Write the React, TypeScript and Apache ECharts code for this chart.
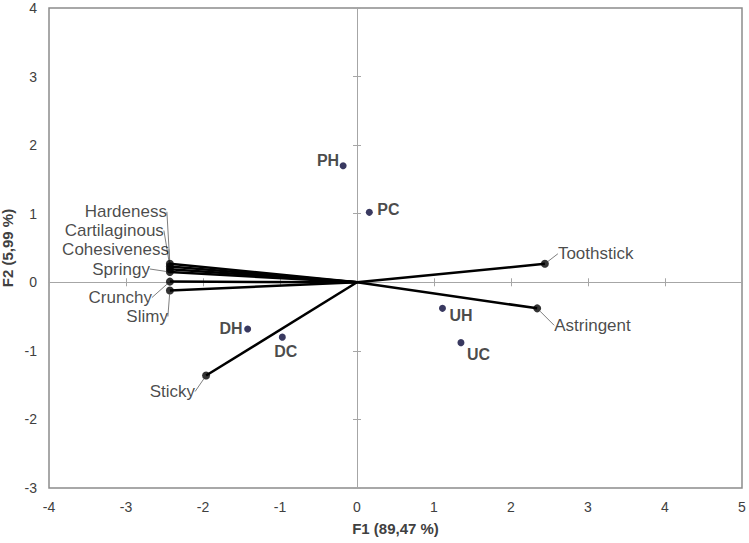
import React, { useEffect, useRef } from "react";
import * as echarts from "echarts";

// Variables (loadings) – F1 / F2 coordinates
const variableNames = ["Hardeness", "Cartilaginous", "Cohesiveness", "Springy", "Crunchy", "Slimy", "Sticky", "Toothstick", "Astringent"];
const variableF1 = [-2.43, -2.43, -2.43, -2.43, -2.43, -2.43, -1.96, 2.44, 2.34];
const variableF2 = [0.27, 0.23, 0.19, 0.15, 0.01, -0.12, -1.36, 0.27, -0.38];

// Observations (samples)
const observationNames = ["PH", "PC", "DH", "DC", "UH", "UC"];
const observationF1 = [-0.18, 0.16, -1.42, -0.97, 1.11, 1.35];
const observationF2 = [1.70, 1.02, -0.68, -0.80, -0.38, -0.88];

// Axes
const xMin = -4;
const xMax = 5;
const yMin = -3;
const yMax = 4;
const xTitle = "F1 (89,47 %)";
const yTitle = "F2 (5,99 %)";

// Label placement (pixel offsets from the point, style only)
const variableLabelOffsets: [number, number, string][] = [
  [-3, -52, "right"],
  [-6, -36, "right"],
  [-1, -20, "right"],
  [-20, -3, "right"],
  [-18, 16, "right"],
  [-2, 26, "right"],
  [-11, 16, "right"],
  [13, -10, "left"],
  [17, 17, "left"],
];
const observationLabelOffsets: [number, number, string][] = [
  [-4, -5, "right"],
  [8, -3, "left"],
  [-5, 0, "right"],
  [-8, 14, "left"],
  [7, 7, "left"],
  [6, 12, "left"],
];

const tickFont = "'Liberation Sans Narrow', 'Arial Narrow', 'Liberation Sans', Arial, sans-serif";
const labelFont = "'Liberation Sans', Arial, sans-serif";

function makeLayout(offsets: [number, number, string][]) {
  return (params: any) => {
    const r = params.rect;
    const o = offsets[params.dataIndex];
    return {
      x: r.x + r.width / 2 + o[0],
      y: r.y + r.height / 2 + o[1],
      align: o[2],
      verticalAlign: "middle",
    };
  };
}

export default function App() {
  const ref = useRef<HTMLDivElement>(null);

  useEffect(() => {
    if (!ref.current) return;
    const chart = echarts.init(ref.current, null, { renderer: "svg" });

    const zeroAxisBase = {
      type: "value",
      min: xMin,
      max: xMax,
      interval: 1,
      axisLabel: { show: false },
      splitLine: { show: false },
      axisLine: { show: true, onZero: true, onZeroAxisIndex: 0, lineStyle: { color: "#a6a6a6", width: 1 } },
    };
    const zeroYAxisBase = {
      type: "value",
      min: yMin,
      max: yMax,
      interval: 1,
      axisLabel: { show: false },
      splitLine: { show: false },
      axisLine: { show: true, onZero: true, onZeroAxisIndex: 0, lineStyle: { color: "#a6a6a6", width: 1 } },
    };

    const lineSeries = variableNames.map((name, i) => ({
      type: "line",
      name,
      data: [
        [0, 0],
        [variableF1[i], variableF2[i]],
      ],
      symbol: "none",
      silent: true,
      z: 3,
      lineStyle: { color: "#000", width: 2.5 },
    }));

    const option: any = {
      animation: false,
      backgroundColor: "#fff",
      grid: {
        left: 49,
        right: 7,
        top: 8,
        bottom: 55,
        containLabel: false,
        outerBoundsMode: "none",
        show: true,
        borderColor: "#8c8c8c",
        borderWidth: 1.5,
        backgroundColor: "transparent",
      },
      xAxis: [
        {
          type: "value",
          position: "bottom",
          min: xMin,
          max: xMax,
          interval: 1,
          axisLine: { show: false, onZero: false },
          axisTick: { show: false },
          splitLine: { show: false },
          axisLabel: { margin: 12, fontSize: 14, color: "#404040", fontFamily: tickFont },
          name: xTitle,
          nameLocation: "middle",
          nameGap: 33,
          nameMoveOverlap: false,
          nameTextStyle: { fontSize: 15, fontWeight: "bold", color: "#404040", fontFamily: tickFont },
        },
        { ...zeroAxisBase, position: "bottom", axisTick: { show: true, inside: false, length: 4, lineStyle: { color: "#a6a6a6" } } },
        { ...zeroAxisBase, position: "bottom", axisTick: { show: true, inside: true, length: 4, lineStyle: { color: "#a6a6a6" } } },
      ],
      yAxis: [
        {
          type: "value",
          position: "left",
          min: yMin,
          max: yMax,
          interval: 1,
          axisLine: { show: false, onZero: false },
          axisTick: { show: false },
          splitLine: { show: false },
          axisLabel: { margin: 12, fontSize: 14, color: "#404040", fontFamily: tickFont },
          name: yTitle,
          nameLocation: "middle",
          nameGap: 34,
          nameMoveOverlap: false,
          nameTextStyle: { fontSize: 15, fontWeight: "bold", color: "#404040", fontFamily: tickFont },
        },
        { ...zeroYAxisBase, position: "left", axisTick: { show: true, inside: false, length: 4, lineStyle: { color: "#a6a6a6" } } },
        { ...zeroYAxisBase, position: "left", axisTick: { show: true, inside: true, length: 4, lineStyle: { color: "#a6a6a6" } } },
      ],
      series: [
        ...lineSeries,
        {
          type: "scatter",
          name: "variables",
          z: 4,
          symbolSize: 8,
          itemStyle: { color: "#000" },
          data: variableNames.map((n, i) => ({ name: n, value: [variableF1[i], variableF2[i]] })),
          label: {
            show: true,
            formatter: "{b}",
            fontSize: 17,
            color: "#1a1a1a",
            fontFamily: labelFont,
          },
          labelLine: { show: true, lineStyle: { color: "#7f7f7f", width: 1 } },
          labelLayout: makeLayout(variableLabelOffsets),
        },
        {
          type: "scatter",
          name: "observations",
          z: 4,
          symbolSize: 7,
          itemStyle: { color: "#070738" },
          data: observationNames.map((n, i) => ({ name: n, value: [observationF1[i], observationF2[i]] })),
          label: {
            show: true,
            formatter: "{b}",
            fontSize: 16,
            fontWeight: "bold",
            color: "#1a1a1a",
            fontFamily: labelFont,
          },
          labelLine: { show: false },
          labelLayout: makeLayout(observationLabelOffsets),
        },
      ],
    };

    chart.setOption(option);
    return () => chart.dispose();
  }, []);

  return <div ref={ref} style={{ width: 749, height: 543, position: "absolute", left: 0, top: 0, background: "#fff" }} />;
}
